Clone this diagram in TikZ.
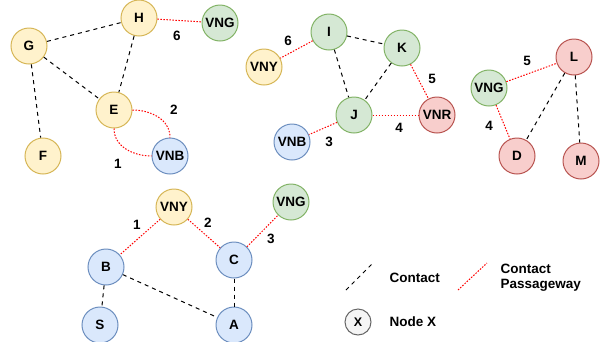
\documentclass[tikz,border=0pt]{standalone}
\usepackage{fontspec}
\setmainfont{Liberation Sans}
\definecolor{yfill}{HTML}{FFF2CC}\definecolor{yline}{HTML}{D6B656}
\definecolor{gfill}{HTML}{D5E8D4}\definecolor{gline}{HTML}{82B366}
\definecolor{bfill}{HTML}{DAE8FC}\definecolor{bline}{HTML}{6C8EBF}
\definecolor{rfill}{HTML}{F8CECC}\definecolor{rline}{HTML}{B85450}
\definecolor{xfill}{HTML}{F5F5F5}\definecolor{xline}{HTML}{666666}
\begin{document}
\begin{tikzpicture}[x=1pt,y=-1pt,
    every node/.style={font=\fontsize{13.5}{15}\selectfont\bfseries},
    vtx/.style={circle,draw,line width=1pt,minimum size=36pt,inner sep=0pt},
    yel/.style={vtx,fill=yfill,draw=yline},
    grn/.style={vtx,fill=gfill,draw=gline},
    blu/.style={vtx,fill=bfill,draw=bline},
    rd/.style={vtx,fill=rfill,draw=rline},
    contact/.style={line width=1pt,dash pattern=on 4pt off 4pt},
    pass/.style={red,line width=1pt,dash pattern=on 1.5pt off 1.5pt}]
    \useasboundingbox (0,0) rectangle (602,341);
    % top left group
    \node[yel] (H) at (139,18) {H};
    \node[grn] (VNG1) at (220,23) {VNG};
    \node[yel] (G) at (29,46) {G};
    \node[yel] (E) at (114,110) {E};
    \node[yel] (F) at (43,156) {F};
    \node[blu] (VNB1) at (170,156) {VNB};
    \draw[contact] (G) -- (H);
    \draw[contact] (G) -- (E);
    \draw[contact] (G) -- (F);
    \draw[contact] (H) -- (E);
    \draw[pass] (H) -- (VNG1);
    \draw[pass] (E.east) to[out=0,in=90] (VNB1.north);
    \draw[pass] (E.south) to[out=-90,in=180] (VNB1.west);
    \node at (177,36) {6};
    \node at (174,110) {2};
    \node at (118,164) {1};
    % middle group
    \node[grn] (I) at (329,32) {I};
    \node[grn] (K) at (402,48) {K};
    \node[yel] (VNY1) at (264,67) {VNY};
    \node[grn] (J) at (354,115) {J};
    \node[blu] (VNB2) at (292,142) {VNB};
    \node[rd] (VNR) at (437,115) {VNR};
    \draw[contact] (I) -- (K);
    \draw[contact] (I) -- (J);
    \draw[contact] (K) -- (J);
    \draw[pass] (I) -- (VNY1);
    \draw[pass] (K) -- (VNR);
    \draw[pass] (J) -- (VNR);
    \draw[pass] (J) -- (VNB2);
    \node at (288,41) {6};
    \node at (432,79) {5};
    \node at (399,128) {4};
    \node at (329,142) {3};
    % right group
    \node[rd] (L) at (574,57) {L};
    \node[grn] (VNG2) at (489,88) {VNG};
    \node[rd] (D) at (517,156) {D};
    \node[rd] (M) at (581,161) {M};
    \draw[pass] (VNG2) -- (L);
    \draw[pass] (VNG2) -- (D);
    \draw[contact] (L) -- (D);
    \draw[contact] (L) -- (M);
    \node at (527,61) {5};
    \node at (489,126) {4};
    % bottom group
    \node[yel] (VNY2) at (174,207) {VNY};
    \node[grn] (VNG3) at (291,202) {VNG};
    \node[blu] (B) at (106,267) {B};
    \node[blu] (C) at (234,260) {C};
    \node[blu] (S) at (100,325) {S};
    \node[blu] (A) at (234,325) {A};
    \draw[pass] (VNY2) -- (B);
    \draw[pass] (VNY2) -- (C);
    \draw[pass] (C) -- (VNG3);
    \draw[contact] (B) -- (S);
    \draw[contact] (B) -- (A);
    \draw[contact] (C) -- (A);
    \node at (137,225) {1};
    \node at (208,223) {2};
    \node at (271,239) {3};
    % legend
    \coordinate (c1) at (346,290);
    \coordinate (c2) at (372,264);
    \coordinate (p1) at (458,290);
    \coordinate (p2) at (487,263);
    \draw[contact] (c1) -- (c2);
    \draw[pass] (p1) -- (p2);
    \node[anchor=west] (lc) at (386,278) {Contact};
    \node[anchor=west,align=left] (lp) at (497,278) {Contact\\Passageway};
    \node[vtx,minimum size=26pt,fill=xfill,draw=xline,font=\fontsize{12.5}{14}\selectfont\bfseries] (X) at (358,322) {X};
    \node[anchor=west] (lx) at (386,322) {Node X};
\end{tikzpicture}
\end{document}
